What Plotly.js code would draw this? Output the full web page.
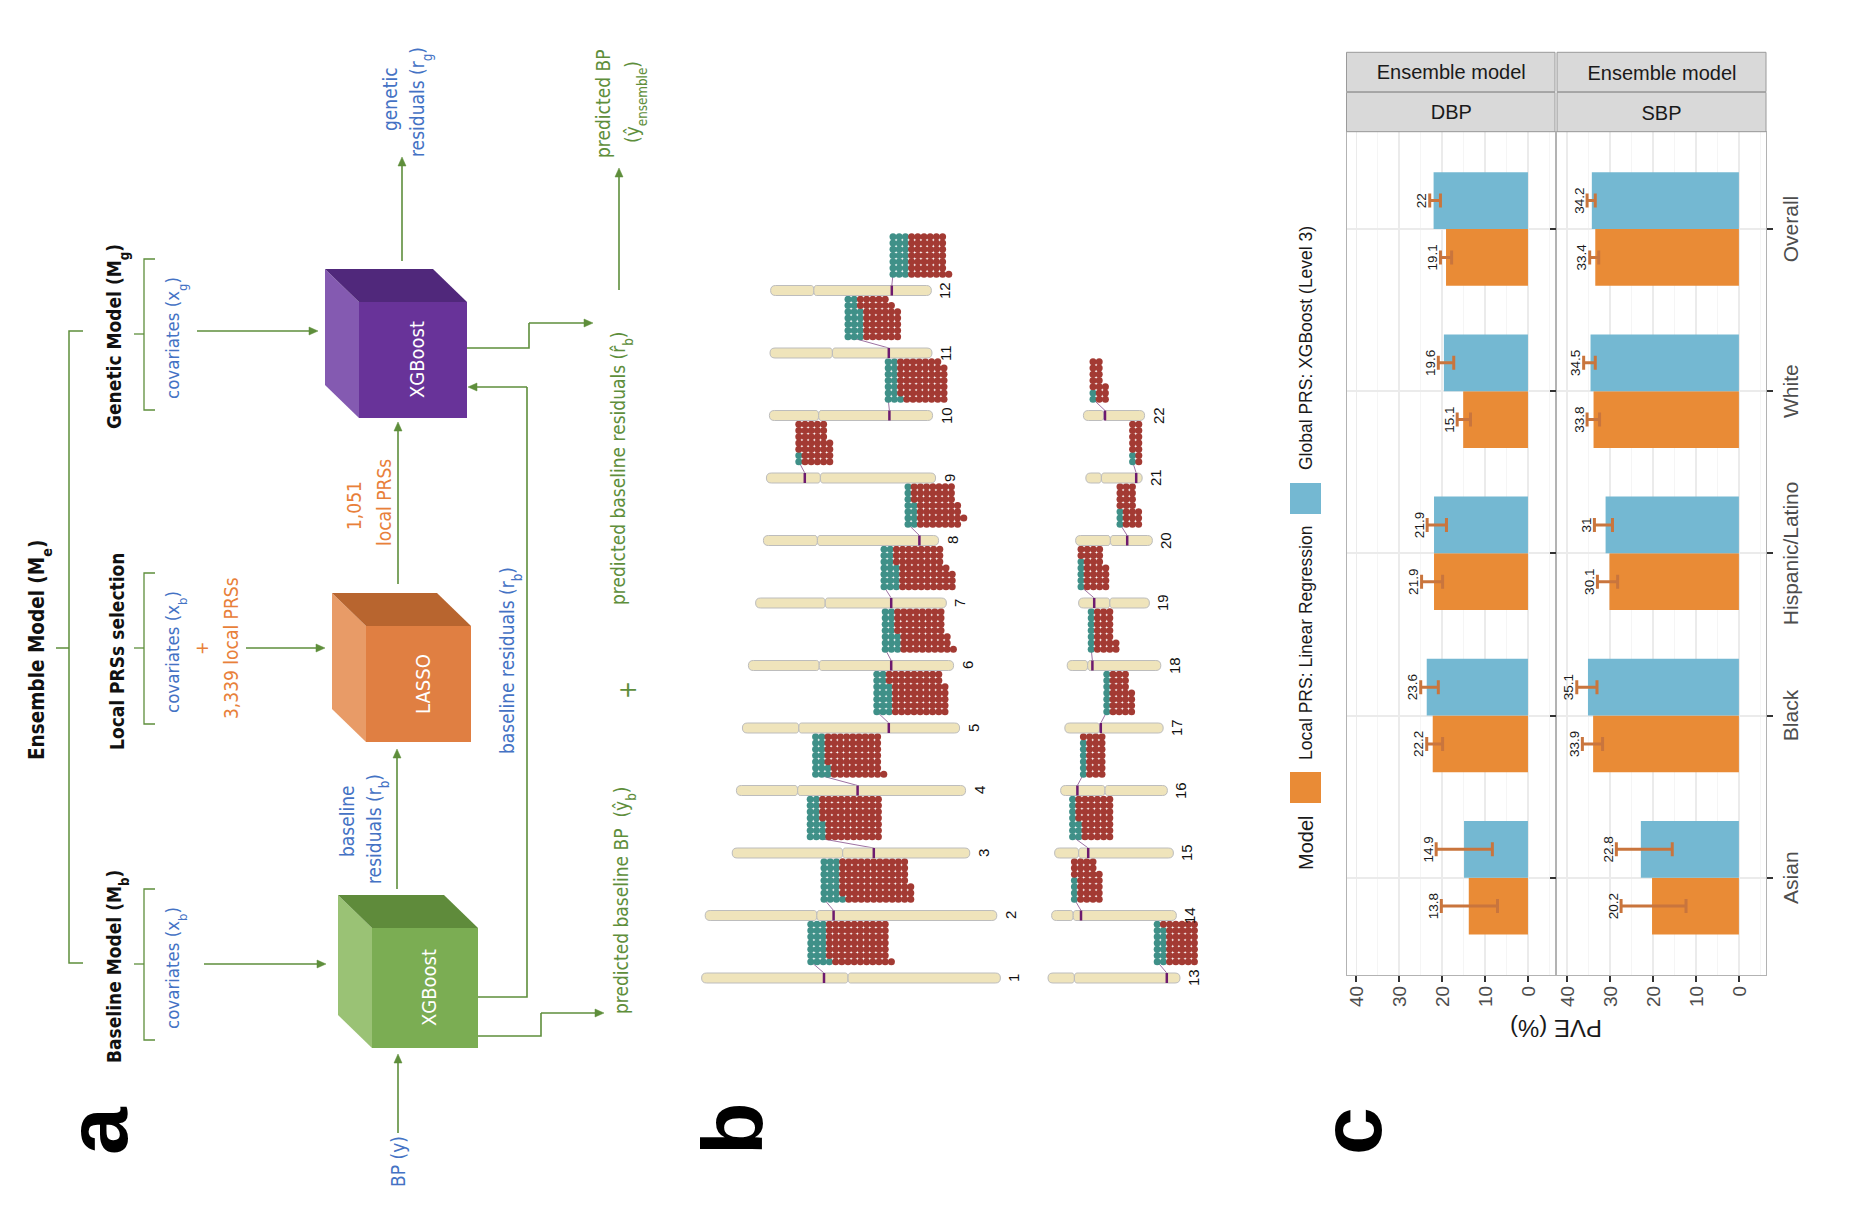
<!DOCTYPE html>
<html>
<head>
<meta charset="utf-8">
<script src="https://cdn.plot.ly/plotly-3.0.1.min.js"></script>
<style>
html, body { margin: 0; padding: 0; overflow: hidden; background: #fff; width: 1851px; height: 1206px; }
#fig { position: absolute; left: 0; top: 0; width: 1206px; height: 1851px;
       transform-origin: 0 0; transform: translate(0, 1206px) rotate(-90deg); }
</style>
</head>
<body>
<div id="fig"></div>
<script>
// ---- panel c data (PVE %, ensemble model) ----
var groups = ['Asian', 'Black', 'Hispanic/Latino', 'White', 'Overall'];
var modelNames = ['Local PRS: Linear Regression', 'Global PRS: XGBoost (Level 3)'];
var dbpLocal    = [13.8, 22.2, 21.9, 15.1, 19.1];
var dbpLocalLo  = [7.1, 19.9, 19.9, 13.4, 17.8];
var dbpLocalHi  = [20.2, 23.6, 24.8, 16.5, 20.4];
var dbpGlobal   = [14.9, 23.6, 21.9, 19.6, 22];
var dbpGlobalLo = [8.3, 20.9, 19.0, 17.3, 20.4];
var dbpGlobalHi = [21.4, 25.0, 23.5, 20.9, 22.9];
var sbpLocal    = [20.2, 33.9, 30.1, 33.8, 33.4];
var sbpLocalLo  = [12.3, 31.7, 28.2, 32.4, 32.6];
var sbpLocalHi  = [27.4, 36.4, 32.9, 35.3, 34.7];
var sbpGlobal   = [22.8, 35.1, 31, 34.5, 34.2];
var sbpGlobalLo = [15.5, 33.0, 29.4, 33.4, 33.4];
var sbpGlobalHi = [28.5, 37.7, 33.6, 36.1, 35.3];
var pveTicks = [0, 10, 20, 30, 40];

// ---- panel b data (Mb) ----
var chromNames = ['1','2','3','4','5','6','7','8','9','10','11','12',
                  '13','14','15','16','17','18','19','20','21','22'];
var chromLen   = [249,243,198,191,181,171,159,146,141,136,135,134,110,104,99,89,82,78,59,64,47,51];
var chromCen   = [122,93,92,51,47,59,58,45,45,41,52,36,22,18,20,37,29,17,26,29,13,17];
var markPos    = [102,107,118,101,122,119,113,130,32,100,99,101,99,24.5,28,14,30,21,13,43,42,18];
var blockStart = [91,99,65,66,112,114,107,120.5,27,99,65,102,91,19,15,19,35,20,2,37,39,8];
// dots per column, nearest column to the chromosome first
var tealCounts = [
  [4,3,3,3,3,3,3], [4,3,3,3,3,3,3], [3,3,3,2,2,2,2], [3,3,2,2,2,2,2],
  [3,3,3,3,3,2,2], [3,3,3,2,2,2,2], [3,3,3,3,2,2,2], [2,2,2,2,1,1,1],
  [1,1,0,0,0,0,0], [3,2,2,2,2,2,2], [3,3,3,3,3,2,2], [3,3,3,3,3,3,3],
  [2,2,2,2,2,2,1], [1,1,1,1,0,0,0], [2,2,2,1,1,1,1], [1,1,1,1,1,1,0],
  [1,1,1,1,1,1,1], [1,1,1,1,1,1,1], [1,1,1,1,1,0,0], [1,1,1,0,0,0,0],
  [1,1,0,0,0,0,0], [1,1,0,0,0,0,0]
];
var redCounts = [
  [10,10,10,10,10,10,10], [11,12,12,11,11,11,11], [9,9,9,10,10,10,10], [9,8,9,9,9,9,9],
  [9,9,9,9,9,9,9], [9,8,8,8,8,8,8], [9,9,9,8,8,8,8], [7,8,7,7,7,7,7],
  [5,5,6,6,5,5,5], [7,8,8,8,8,8,7], [6,6,6,6,6,6,5], [7,6,6,6,6,6,6],
  [5,5,5,5,5,5,6], [4,4,4,4,5,4,4], [5,5,5,6,6,6,6], [3,3,3,3,3,3,4],
  [4,4,4,4,3,3,3], [4,4,3,3,3,3,3], [4,4,4,4,3,4,4], [3,3,3,3,3,3,3],
  [1,1,2,2,2,2,2], [2,2,3,2,2,2,2]
];

// ---- styling ----
var W = 1206, H = 1851;
var SANS = '"Liberation Sans", Arial, sans-serif';
var NARROW = '"Liberation Sans Narrow", "Arial Narrow", "DejaVu Sans Condensed", sans-serif';
var GREEN = '#5E8E3B', BLUE = '#4472C4', ORANGE_T = '#E8803A';
var BAR_OR = '#E98B36', BAR_BL = '#74B8D2', ERR = '#C9753D';
var TEAL = '#3F9088', RED = '#A33A33';
function px(x) { return x / W; }
function py(y) { return 1 - y / H; }
function sb(s) { return '<span style="font-size:70%;baseline-shift:sub">' + s + '</span>'; }

var traces = [], shapes = [], annotations = [];

function ann(text, x, y, size, color, o) {
  o = o || {};
  annotations.push({
    text: text, xref: 'paper', yref: 'paper', x: px(x), y: py(y),
    xanchor: o.xanchor || 'center', yanchor: o.yanchor || 'middle', showarrow: false,
    textangle: o.angle || 0,
    font: { family: o.family || NARROW, size: size, color: color }
  });
}
function poly(pts, color, width, fill) {
  var d = pts.map(function (p, i) { return (i ? 'L' : 'M') + px(p[0]) + ',' + py(p[1]); }).join(' ');
  if (fill) d += ' Z';
  shapes.push({ type: 'path', xref: 'paper', yref: 'paper', path: d,
    fillcolor: fill || 'rgba(0,0,0,0)', line: { color: color, width: width } });
}
function arrow(x0, y0, x1, y1, color) {
  var dx = x1 - x0, dy = y1 - y0, L = Math.sqrt(dx * dx + dy * dy), ux = dx / L, uy = dy / L;
  var hl = 9, hw = 4, bx = x1 - ux * hl, by = y1 - uy * hl;
  poly([[x0, y0], [bx, by]], color, 1.6);
  poly([[x1, y1], [bx - uy * hw, by + ux * hw], [bx + uy * hw, by - ux * hw]], color, 0.5, color);
}
function prect(x0, y0, x1, y1, fill, line) {
  shapes.push({ type: 'rect', xref: 'paper', yref: 'paper', x0: px(x0), x1: px(x1), y0: py(y1), y1: py(y0),
    fillcolor: fill, line: { color: line || fill, width: line ? 1 : 0 } });
}

// ================= panel a : diagram =================
ann('<b>a</b>', 75, 97, 86, '#000', { family: SANS });
ann('<b>Ensemble Model (M' + sb('e') + ')</b>', 556, 40, 20.5, '#111');
poly([[243, 83], [243, 69], [875, 69], [875, 83]], GREEN, 1.5);
poly([[558, 69], [558, 56]], GREEN, 1.5);

var cols = [
  { cx: 242, head: 'Baseline Model (M' + sb('b') + ')', cov: 'covariates (x' + sb('b') + ')' },
  { cx: 558, head: 'Local PRSs selection', cov: 'covariates (x' + sb('b') + ')' },
  { cx: 872, head: 'Genetic Model (M' + sb('g') + ')', cov: 'covariates (x' + sb('g') + ')' }
];
cols.forEach(function (c) {
  ann('<b>' + c.head + '</b>', c.cx - 3, 117, 19, '#111');
  poly([[c.cx - 76, 155], [c.cx - 76, 144], [c.cx + 75, 144], [c.cx + 75, 155]], GREEN, 1.3);
  poly([[c.cx, 144], [c.cx, 134]], GREEN, 1.3);
  ann(c.cov, c.cx - 4, 176, 18.5, BLUE);
});
ann('+', 558, 202, 18, ORANGE_T);
ann('3,339 local PRSs', 558, 231, 19, ORANGE_T);
arrow(242, 204, 242, 326, GREEN);
arrow(558, 246, 558, 325, GREEN);
arrow(875, 197, 875, 318, GREEN);

// cubes: front face, light top face, dark side face
function cube(x0, y0, x1, y1, front, light, dark, label) {
  var dx = 33, dy = -34;
  poly([[x0, y0], [x1, y0], [x1 + dx, y0 + dy], [x0 + dx, y0 + dy]], light, 0, light);
  poly([[x1, y0], [x1 + dx, y0 + dy], [x1 + dx, y1 + dy], [x1, y1]], dark, 0, dark);
  prect(x0, y0, x1, y1, front);
  ann(label, (x0 + x1) / 2, (y0 + y1) / 2 + 4, 20, '#fff');
}
cube(158, 372, 278, 478, '#7BAD53', '#9AC275', '#5F8B3B', 'XGBoost');
cube(464, 366, 580, 471, '#E07F42', '#E89B67', '#B8652F', 'LASSO');
cube(788, 359, 904, 467, '#683399', '#845AB1', '#50287B', 'XGBoost');

ann('BP (y)', 44, 398, 19, BLUE);
arrow(73, 398, 152, 398, GREEN);
arrow(317, 397, 457, 397, GREEN);
ann('baseline', 385, 347, 19, BLUE);
ann('residuals (r' + sb('b') + ')', 377, 377, 19, BLUE);
arrow(622, 398, 784, 398, GREEN);
ann('1,051', 700, 354, 19, ORANGE_T);
ann('local PRSs', 703, 384, 19, ORANGE_T);
arrow(945, 402, 1049, 402, GREEN);
ann('genetic', 1107, 390, 19, BLUE);
ann('residuals (r' + sb('g') + ')', 1104, 420, 19, BLUE);

poly([[209, 478], [209, 527], [819, 527]], GREEN, 1.6);
arrow(819, 527, 819, 468, GREEN);
ann('baseline residuals (r' + sb('b') + ')', 545, 511, 19, BLUE);

poly([[170, 478], [170, 541], [193, 541]], GREEN, 1.6);
arrow(193, 541, 193, 604, GREEN);
ann('predicted baseline BP\u00a0\u00a0(\u0177' + sb('b') + ')', 305, 624, 19, GREEN);

poly([[858, 467], [858, 529], [883, 529]], GREEN, 1.6);
arrow(883, 529, 883, 593, GREEN);
ann('predicted baseline residuals (r\u0302' + sb('b') + ')', 738, 621, 19, GREEN);
ann('+', 516, 628, 24, GREEN);
arrow(916, 619, 1038, 619, GREEN);
ann('predicted BP', 1102, 603, 19, GREEN);
ann('(\u0177' + sb('ensemble') + ')', 1104, 635, 19, GREEN);

// ================= panel b : karyogram =================
ann('<b>b</b>', 77, 732, 86, '#000', { family: SANS });
var B_COL0 = 228, B_COLW = 62.5, B_MB = 1.2, B_MID = 851, B_MID2 = 1114, B_TOP = 600, B_BOT = 1260;
var rowShift = (B_MID2 - B_MID) / B_MB;
var hw = 5 / B_COLW, rEnd = 5 / B_MB, rCen = 2.5 / B_MB;
function armPath(cx, y0, y1, r0, r1) {
  return 'M' + (cx - hw) + ',' + (y0 + r0) + ' Q' + (cx - hw) + ',' + y0 + ' ' + cx + ',' + y0 +
    ' Q' + (cx + hw) + ',' + y0 + ' ' + (cx + hw) + ',' + (y0 + r0) +
    ' L' + (cx + hw) + ',' + (y1 - r1) + ' Q' + (cx + hw) + ',' + y1 + ' ' + cx + ',' + y1 +
    ' Q' + (cx - hw) + ',' + y1 + ' ' + (cx - hw) + ',' + (y1 - r1) + ' Z';
}
var teal = { x: [], y: [] }, red = { x: [], y: [] };
chromNames.forEach(function (nm, c) {
  var row = c < 12 ? 0 : 1, col = c < 12 ? c : c - 12;
  var top = row * rowShift - chromLen[c] / 2, bot = top + chromLen[c], cen = top + chromCen[c];
  [[top, cen, rEnd, rCen], [cen, bot, rCen, rEnd]].forEach(function (a) {
    shapes.push({ type: 'path', xref: 'x3', yref: 'y3', path: armPath(col, a[0], a[1], a[2], a[3]),
      fillcolor: '#EFE4BB', line: { color: '#BDBDBD', width: 1 } });
  });
  var m = top + markPos[c], b0 = top + blockStart[c];
  var dot0 = 16.3 / B_COLW;
  shapes.push({ type: 'line', xref: 'x3', yref: 'y3', layer: 'below', x0: col + hw, x1: col + dot0, y0: m, y1: b0,
    line: { color: '#9E72A3', width: 1 } });
  shapes.push({ type: 'line', xref: 'x3', yref: 'y3', x0: col - hw, x1: col + hw, y0: m, y1: m,
    line: { color: '#6D1A6F', width: 2.5 } });
  for (var k = 0; k < tealCounts[c].length; k++) {
    var nT = tealCounts[c][k], n = nT + redCounts[c][k];
    var xk = col + (16.3 + 6.23 * k) / B_COLW;
    for (var j = 0; j < n; j++) {
      var tgt = j < nT ? teal : red;
      tgt.x.push(xk); tgt.y.push(b0 + j * 6.2 / B_MB);
    }
  }
  annotations.push({ text: nm, xref: 'x3', yref: 'y3', x: col, y: bot + 3 / B_MB, yanchor: 'top', xanchor: 'center',
    showarrow: false, font: { family: SANS, size: 15, color: '#111' } });
});
traces.push({ type: 'scatter', mode: 'markers', x: teal.x, y: teal.y, xaxis: 'x3', yaxis: 'y3',
  marker: { color: TEAL, size: 7, line: { width: 0 } }, hoverinfo: 'skip' });
traces.push({ type: 'scatter', mode: 'markers', x: red.x, y: red.y, xaxis: 'x3', yaxis: 'y3',
  marker: { color: RED, size: 7, line: { width: 0 } }, hoverinfo: 'skip' });

// ================= panel c : bar chart =================
ann('<b>c</b>', 75, 1351, 86, '#000', { family: SANS });
var BW = 0.35;
var catPos = groups.map(function (g, i) { return i + 1; });
function xs(side) { return catPos.map(function (c) { return c + side * BW / 2; }); }
function addSeries(vals, lo, hi, side, color, ya) {
  traces.push({ type: 'bar', x: xs(side), y: vals, width: BW, xaxis: 'x', yaxis: ya, hoverinfo: 'skip',
    marker: { color: color, line: { width: 0 } },
    error_y: { type: 'data', symmetric: false, color: ERR, thickness: 3, width: 7,
      array: hi.map(function (h, i) { return h - vals[i]; }),
      arrayminus: lo.map(function (l, i) { return vals[i] - l; }) } });
  traces.push({ type: 'scatter', mode: 'text', x: xs(side), y: hi, xaxis: 'x', yaxis: ya, hoverinfo: 'skip',
    text: vals.map(String), textposition: 'top center', cliponaxis: false,
    textfont: { family: SANS, size: 13.5, color: '#1A1A1A' } });
}
addSeries(dbpLocal, dbpLocalLo, dbpLocalHi, -1, BAR_OR, 'y');
addSeries(dbpGlobal, dbpGlobalLo, dbpGlobalHi, 1, BAR_BL, 'y');
addSeries(sbpLocal, sbpLocalLo, sbpLocalHi, -1, BAR_OR, 'y2');
addSeries(sbpGlobal, sbpGlobalLo, sbpGlobalHi, 1, BAR_BL, 'y2');

// strips
var facets = [{ lab: 'DBP', y0: 1346.5, y1: 1555 }, { lab: 'SBP', y0: 1557, y1: 1766 }];
facets.forEach(function (f) {
  prect(1074.3, f.y0, 1113.7, f.y1, '#D9D9D9', '#9A9A9A');
  prect(1114.3, f.y0, 1153.7, f.y1, '#D9D9D9', '#9A9A9A');
  ann(f.lab, 1094, (f.y0 + f.y1) / 2, 20, '#1A1A1A', { family: SANS, angle: 90 });
  ann('Ensemble model', 1134, (f.y0 + f.y1) / 2, 20, '#1A1A1A', { family: SANS, angle: 90 });
});
ann('PVE (%)', 177, 1556, 24, '#1A1A1A', { family: SANS, angle: -90 });

// legend
ann('Model', 363, 1306, 20, '#1A1A1A', { family: SANS });
prect(403, 1290, 434, 1321, BAR_OR);
ann(modelNames[0], 444, 1306, 17.5, '#1A1A1A', { family: SANS, xanchor: 'left' });
prect(692, 1290, 723, 1321, BAR_BL);
ann(modelNames[1], 734, 1306, 17.5, '#1A1A1A', { family: SANS, xanchor: 'left' });

function valAxis(dom) {
  return {
    domain: dom, anchor: 'x', range: [-6.3, 42.3], tickvals: pveTicks, zeroline: false,
    showline: true, mirror: true, linecolor: '#B3B3B3', linewidth: 1,
    ticks: 'outside', ticklen: 6, tickwidth: 2, tickcolor: '#333',
    tickfont: { family: SANS, size: 19, color: '#4D4D4D' },
    showgrid: true, gridcolor: '#EBEBEB', gridwidth: 1.6,
    minor: { dtick: 5, showgrid: true, gridcolor: '#F3F3F3', gridwidth: 0.8 }
  };
}

var layout = {
  width: W, height: H, margin: { l: 0, r: 0, t: 0, b: 0 },
  paper_bgcolor: '#FFFFFF', plot_bgcolor: 'rgba(0,0,0,0)',
  showlegend: false, barmode: 'overlay', font: { family: SANS },
  xaxis: {
    domain: [px(231), px(1074.3)], anchor: 'y2', range: [0.4, 5.6],
    tickvals: catPos, ticktext: groups, zeroline: false,
    showline: true, mirror: 'all', linecolor: '#B3B3B3', linewidth: 1,
    ticks: 'outside', ticklen: 6, tickwidth: 2, tickcolor: '#333',
    tickfont: { family: SANS, size: 21, color: '#4D4D4D' },
    showgrid: true, gridcolor: '#EBEBEB', gridwidth: 2
  },
  yaxis: valAxis([py(1555), py(1346.5)]),
  yaxis2: valAxis([py(1766), py(1557)]),
  xaxis3: { domain: [0, 1], anchor: 'y3', range: [-B_COL0 / B_COLW, (W - B_COL0) / B_COLW], visible: false },
  yaxis3: { domain: [py(B_BOT), py(B_TOP)], anchor: 'x3',
            range: [(B_BOT - B_MID) / B_MB, (B_TOP - B_MID) / B_MB], visible: false },
  shapes: shapes,
  annotations: annotations
};

Plotly.newPlot('fig', traces, layout, { staticPlot: true, displayModeBar: false });
</script>
</body>
</html>
